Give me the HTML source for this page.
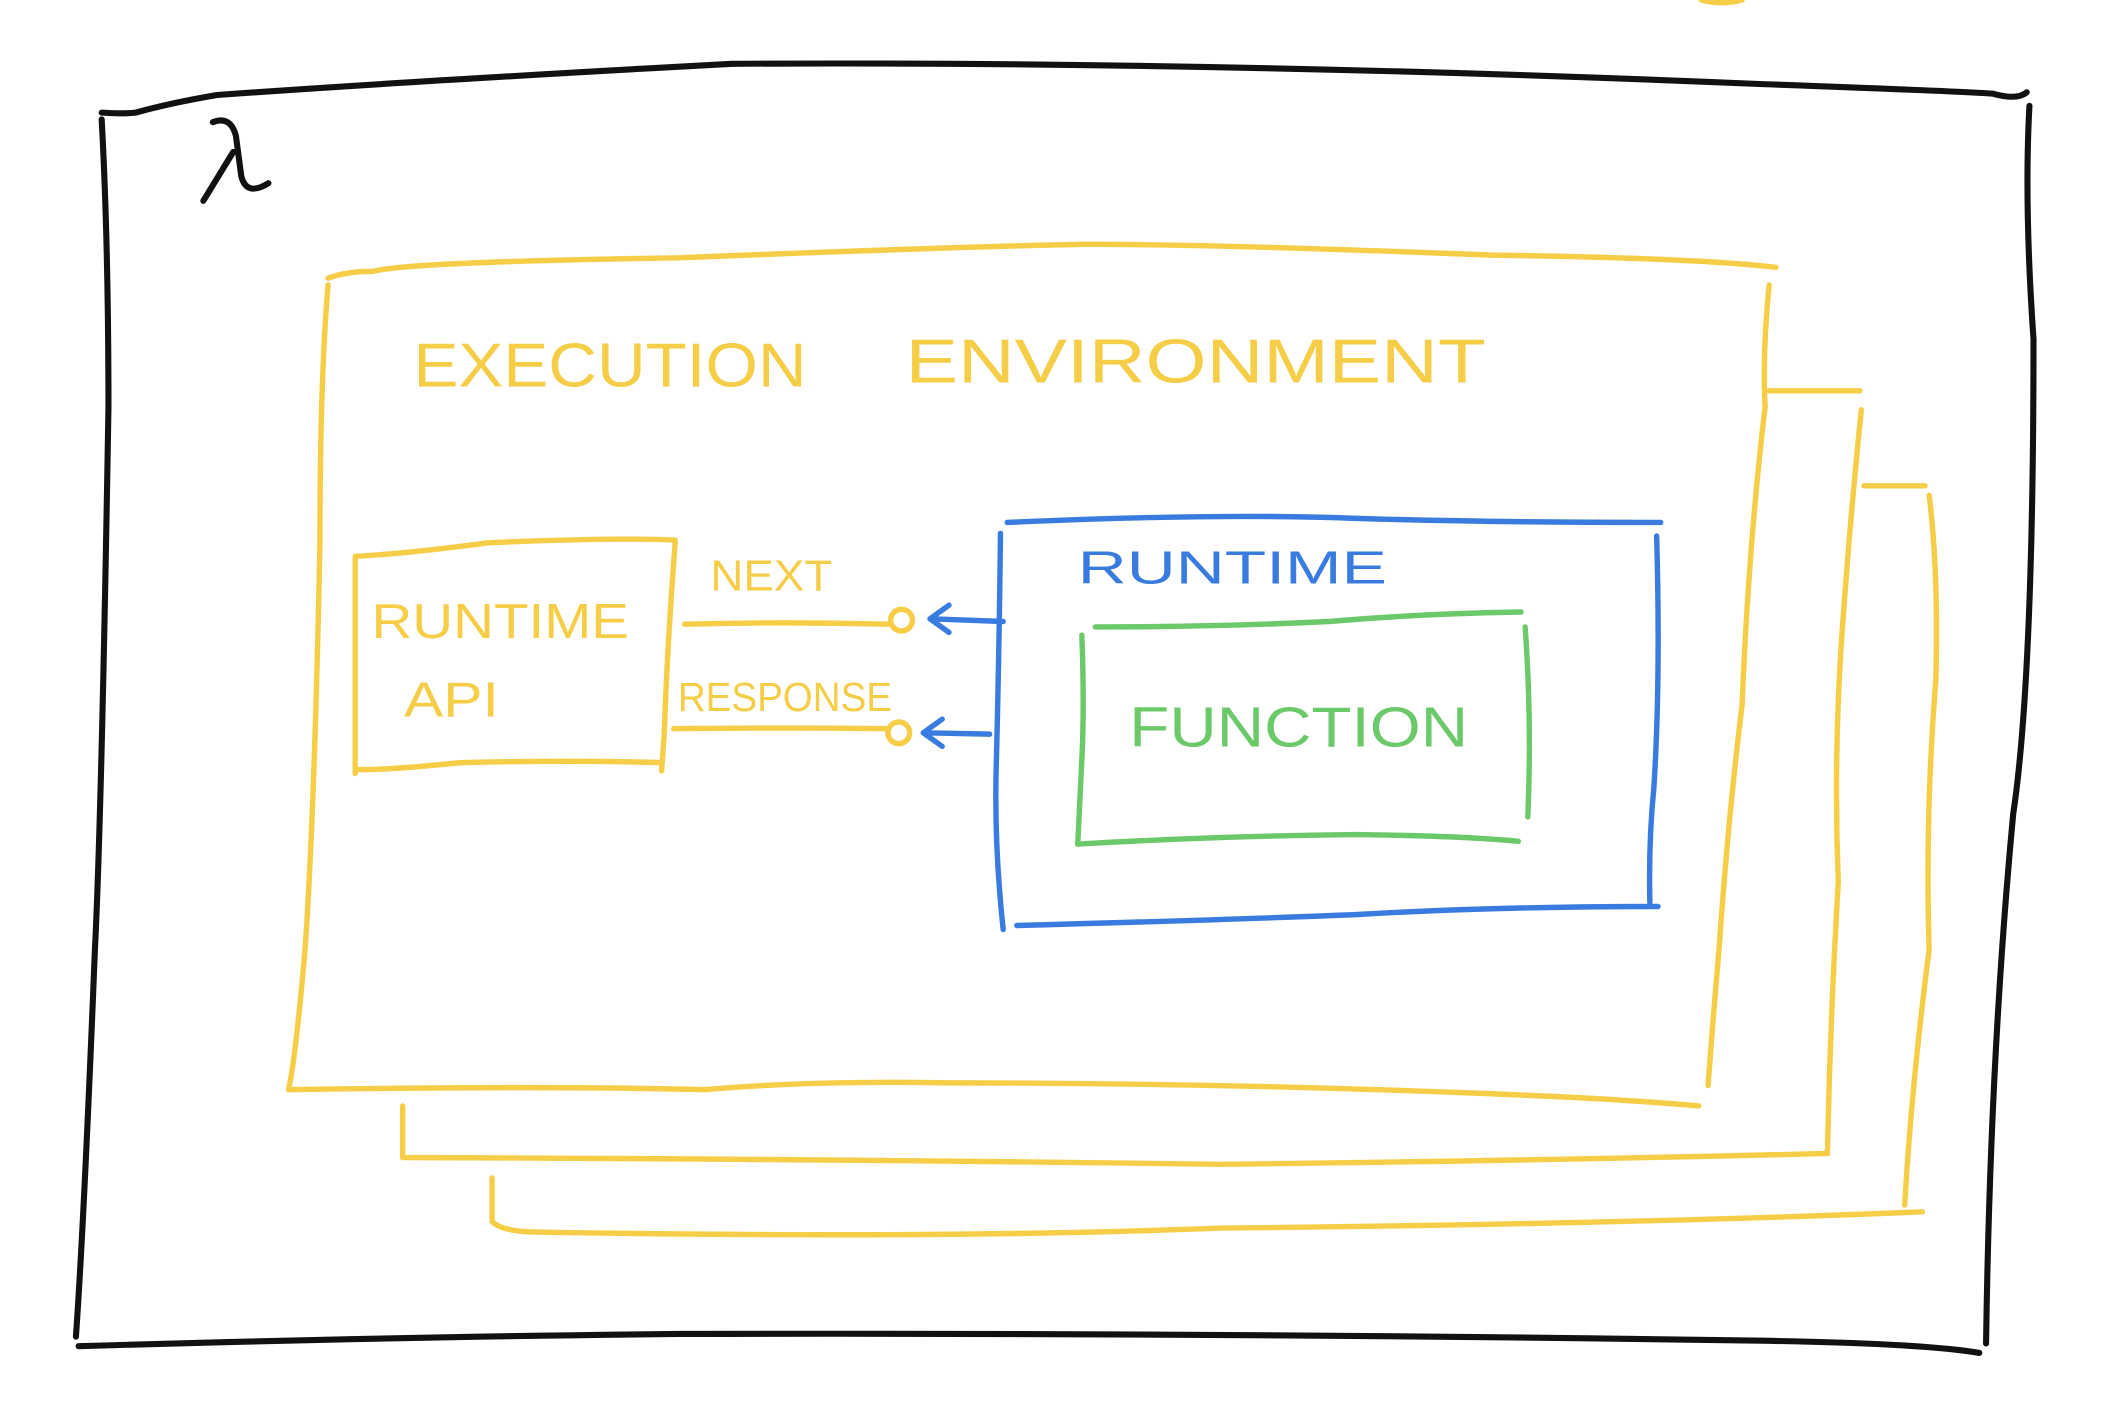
<!DOCTYPE html>
<html><head><meta charset="utf-8"><style>
html,body{margin:0;padding:0;background:#fff;}
svg{display:block;}
text{font-family:"Liberation Sans",sans-serif;}
</style></head><body>
<svg width="2104" height="1414" viewBox="0 0 1552 1042" preserveAspectRatio="none" xmlns="http://www.w3.org/2000/svg">
<g fill="none" stroke-linecap="round" stroke-linejoin="round">
<!-- black frame -->
<g stroke="#111" stroke-width="4.5">
<path d="M75 83 Q90 84 100 83 Q125 76 160 70 Q300 60 540 47 Q900 45 1300 62 Q1440 67 1470 69 Q1488 74 1495 68"/>
<path d="M75 88 Q80 180 80 300 Q75 600 70 700 Q62 900 56 985"/>
<path d="M1497 78 Q1493 150 1500 250 Q1500 500 1485 600 Q1468 780 1465 990"/>
<path d="M58 992 Q300 985 500 983 Q900 982 1300 988 Q1420 990 1460 997"/>
<path d="M157 90 Q170 85 174 100 L178 130 Q182 145 198 135 M172 112 L150 148"/>
</g>
<path d="M1255 0 Q1270 4 1285 0" stroke="#f5cd47" stroke-width="4"/>
<!-- yellow boxes -->
<g stroke="#f5cd47" stroke-width="4">
<path d="M242 205 Q255 200 275 200 Q300 193 500 190 Q700 182 800 180 Q900 180 1100 188 Q1250 190 1310 197"/>
<path d="M242 210 Q236 280 236 400 Q232 600 225 700 Q218 780 213 802"/>
<path d="M1305 210 Q1300 260 1302 300 Q1290 400 1285 520 Q1275 600 1268 700 Q1262 770 1260 800"/>
<path d="M213 803 Q400 800 520 803 Q600 796 700 798 Q900 798 1100 806 Q1200 810 1253 815"/>
<path d="M1305 288 L1372 288"/>
<path d="M1373 302 Q1365 380 1360 450 Q1352 550 1356 650 Q1350 750 1348 850"/>
<path d="M297 815 L297 853 Q600 854 900 858 Q1150 855 1348 850"/>
<path d="M1375 358 L1420 358"/>
<path d="M1423 365 Q1430 420 1428 500 Q1420 600 1423 700 Q1410 800 1405 888"/>
<path d="M363 868 L363 900 Q370 908 400 908 Q700 913 900 905 Q1200 902 1418 893"/>
<path d="M262 410 Q300 408 360 400 Q450 396 498 398"/>
<path d="M262 412 L262 570"/>
<path d="M498 400 Q492 480 490 540 L488 568"/>
<path d="M262 567 Q280 568 340 562 Q420 560 488 562"/>
<path d="M505 460 Q580 458 655 460"/>
<circle cx="665" cy="457" r="8"/>
<path d="M497 537 Q580 536 655 537"/>
<circle cx="663" cy="540" r="8"/>
</g>
<g stroke="#3a7be0" stroke-width="4">
<path d="M743 385 Q900 378 1000 382 Q1100 385 1225 385"/>
<path d="M738 393 Q737 480 735 560 Q733 620 740 685"/>
<path d="M1222 395 Q1225 500 1220 580 Q1216 620 1217 665"/>
<path d="M750 682 Q900 678 1000 674 Q1100 668 1223 668"/>
<path d="M740 458 L687 456 M700 446 L686 456 L700 466"/>
<path d="M730 541 L682 540 M695 530 L681 540 L695 550"/>
</g>
<g stroke="#6cc96a" stroke-width="4">
<path d="M808 462 Q900 462 980 458 Q1050 452 1122 451"/>
<path d="M798 468 Q800 520 798 560 L795 622"/>
<path d="M1125 462 Q1130 530 1127 602"/>
<path d="M795 622 Q900 616 1000 615 Q1080 616 1120 620"/>
</g>
</g>
<text x="305" y="285" font-size="46" fill="#f5cd47" textLength="290" lengthAdjust="spacingAndGlyphs">EXECUTION</text>
<text x="668" y="282" font-size="46" fill="#f5cd47" textLength="428" lengthAdjust="spacingAndGlyphs">ENVIRONMENT</text>
<text x="274" y="470" font-size="36" fill="#f5cd47" textLength="190" lengthAdjust="spacingAndGlyphs">RUNTIME</text>
<text x="298" y="528" font-size="36" fill="#f5cd47" textLength="70" lengthAdjust="spacingAndGlyphs">API</text>
<text x="524" y="435" font-size="32" fill="#f5cd47" textLength="90" lengthAdjust="spacingAndGlyphs">NEXT</text>
<text x="500" y="524" font-size="30" fill="#f5cd47" textLength="158" lengthAdjust="spacingAndGlyphs">RESPONSE</text>
<text x="795" y="430" font-size="34" fill="#3a7be0" textLength="228" lengthAdjust="spacingAndGlyphs">RUNTIME</text>
<text x="833" y="550" font-size="42" fill="#6cc96a" textLength="250" lengthAdjust="spacingAndGlyphs">FUNCTION</text>
</svg>
</body></html>
